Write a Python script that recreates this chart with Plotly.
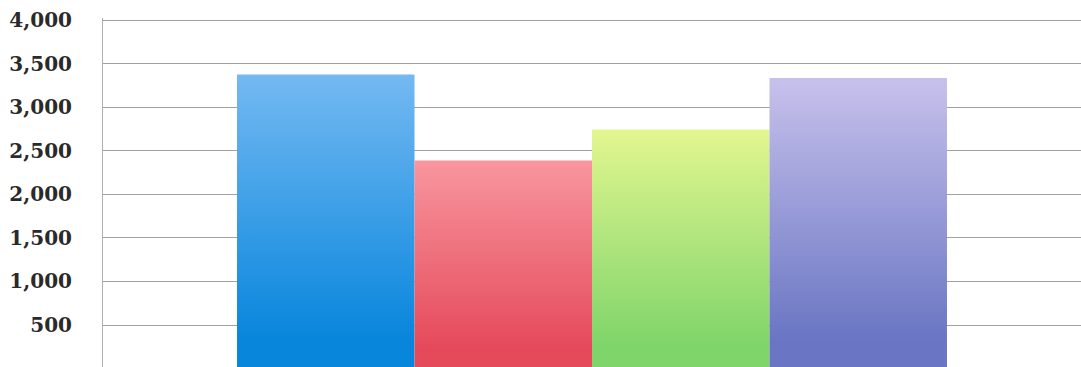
import plotly.graph_objects as go

# Four series, one bar each, drawn side by side with vertical colour gradients
series = ["Series 1", "Series 2", "Series 3", "Series 4"]
values = [3375, 2390, 2745, 3335]
top_colors = ["#74B9F2", "#F8969F", "#E3F690", "#C7C1EC"]
bottom_colors = ["#0886DC", "#E54A5B", "#80D56A", "#6A76C3"]

y_ticks = [500, 1000, 1500, 2000, 2500, 3000, 3500, 4000]
y_tick_text = [f"{t:,}" for t in y_ticks]

bar_width = 1.0

fig = go.Figure()
for i, (name, v, ct, cb) in enumerate(zip(series, values, top_colors, bottom_colors)):
    fig.add_trace(go.Scatter(
        x=[i - bar_width / 2, i + bar_width / 2],
        y=[v, v],
        mode="lines",
        line=dict(width=0, color=cb),
        fill="tozeroy",
        fillgradient=dict(
            type="vertical",
            colorscale=[[0, cb], [0.1, cb], [1, ct]],
        ),
        name=name,
        hoverinfo="name+y",
    ))

fig.update_layout(
    width=1081,
    height=367,
    margin=dict(l=103, r=0, t=18, b=0),
    paper_bgcolor="white",
    plot_bgcolor="white",
    showlegend=False,
    xaxis=dict(
        range=[-1.255, 4.255],
        visible=False,
        fixedrange=True,
    ),
    yaxis=dict(
        range=[18, 4025],
        tickvals=y_ticks,
        ticktext=y_tick_text,
        showgrid=True,
        gridcolor="#a0a0a0",
        gridwidth=1,
        showline=True,
        linecolor="#b0b0b0",
        linewidth=1,
        zeroline=False,
        ticks="",
        ticklabelstandoff=26,
        tickfont=dict(family="DejaVu Serif", size=20, color="#2a2a2a", weight="bold"),
        fixedrange=True,
    ),
)

fig.write_html("out.html")
